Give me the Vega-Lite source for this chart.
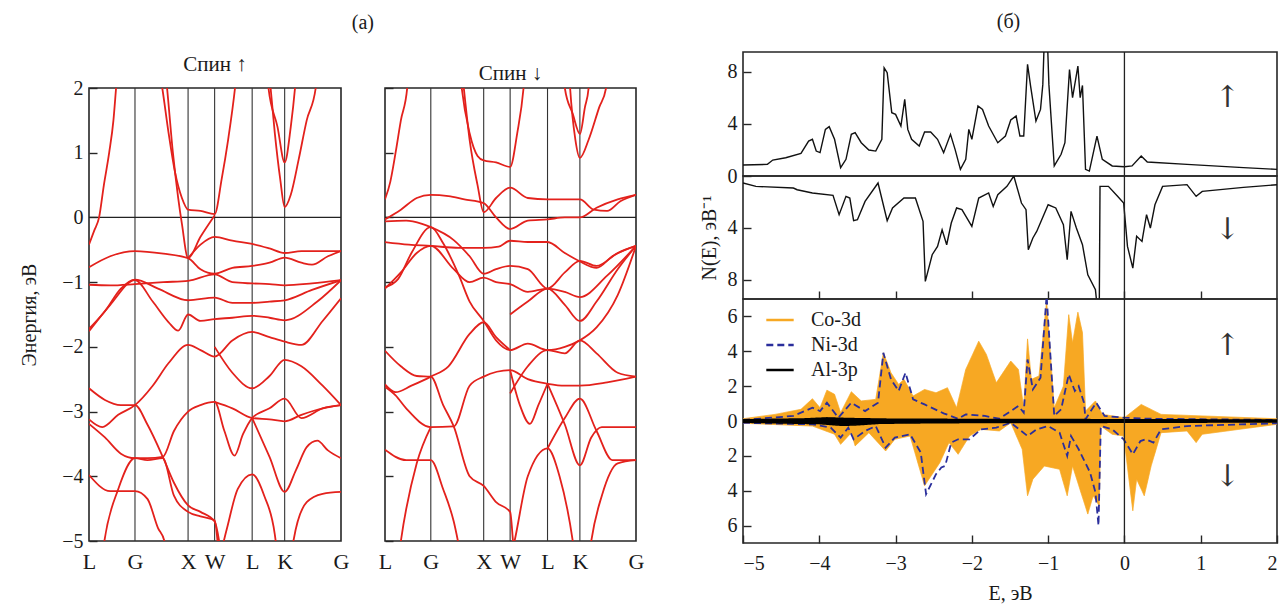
{
"$schema": "https://vega.github.io/schema/vega-lite/v6.json",
"background": "white",
"padding": {"left": 18, "top": 11, "right": 2, "bottom": 2},
"config": {
 "font": "Liberation Serif",
 "view": {"stroke": "#262626", "strokeWidth": 1.6},
 "axis": {"labelFont": "Liberation Serif", "titleFont": "Liberation Serif", "labelFontSize": 20, "titleFontSize": 20, "labelColor": "#1a1a1a", "titleColor": "#1a1a1a", "titleFontWeight": "normal", "grid": false, "domain": false, "tickColor": "#262626", "tickWidth": 1.4},
 "title": {"font": "Liberation Serif", "fontSize": 21, "fontWeight": "normal", "color": "#1a1a1a"},
 "legend": {"labelFont": "Liberation Serif", "labelFontSize": 20, "labelColor": "#1a1a1a"}
},
"datasets": {
 "sym": [{"k": 0.866}, {"k": 1.866}, {"k": 2.366}, {"k": 3.073}, {"k": 3.685}],
 "zero": [{"E": 0}],
 "bu": [
  {"b":"B1","k":0,"E":-0.42},{"b":"B1","k":0.1,"E":-0.2},{"b":"B1","k":0.19,"E":0},{"b":"B1","k":0.28,"E":0.5},{"b":"B1","k":0.38,"E":1.0},{"b":"B1","k":0.46,"E":1.5},{"b":"B1","k":0.51,"E":2.0},{"b":"B1","k":0.55,"E":2.4},
  {"b":"B2","k":1.30,"E":2.4},{"b":"B2","k":1.38,"E":2.0},{"b":"B2","k":1.50,"E":1.3},{"b":"B2","k":1.62,"E":0.7},{"b":"B2","k":1.75,"E":0.3},{"b":"B2","k":1.866,"E":0.12},{"b":"B2","k":2.1,"E":0.1},{"b":"B2","k":2.366,"E":0.05},{"b":"B2","k":2.5,"E":0.6},{"b":"B2","k":2.62,"E":1.2},{"b":"B2","k":2.75,"E":2.0},{"b":"B2","k":2.8,"E":2.4},
  {"b":"B3","k":1.42,"E":2.4},{"b":"B3","k":1.47,"E":2.0},{"b":"B3","k":1.58,"E":1.0},{"b":"B3","k":1.68,"E":0.3},{"b":"B3","k":1.75,"E":-0.1},{"b":"B3","k":1.866,"E":-0.63},{"b":"B3","k":2.1,"E":-0.3},{"b":"B3","k":2.366,"E":0.03},
  {"b":"B4","k":3.33,"E":2.4},{"b":"B4","k":3.38,"E":2.0},{"b":"B4","k":3.55,"E":1.4},{"b":"B4","k":3.685,"E":0.85},{"b":"B4","k":3.8,"E":1.4},{"b":"B4","k":3.88,"E":2.0},{"b":"B4","k":3.92,"E":2.4},
  {"b":"B5","k":3.38,"E":2.4},{"b":"B5","k":3.42,"E":2.0},{"b":"B5","k":3.5,"E":1.3},{"b":"B5","k":3.6,"E":0.6},{"b":"B5","k":3.685,"E":0.16},{"b":"B5","k":3.8,"E":0.35},{"b":"B5","k":3.95,"E":0.9},{"b":"B5","k":4.1,"E":1.5},{"b":"B5","k":4.27,"E":2.0},{"b":"B5","k":4.32,"E":2.4},
  {"b":"B7","k":0,"E":-0.77},{"b":"B7","k":0.4,"E":-0.6},{"b":"B7","k":0.866,"E":-0.52},{"b":"B7","k":1.4,"E":-0.56},{"b":"B7","k":1.866,"E":-0.63},{"b":"B7","k":2.1,"E":-0.8},{"b":"B7","k":2.366,"E":-0.87},{"b":"B7","k":2.7,"E":-0.78},{"b":"B7","k":3.073,"E":-0.75},{"b":"B7","k":3.4,"E":-0.7},{"b":"B7","k":3.685,"E":-0.62},{"b":"B7","k":4.0,"E":-0.7},{"b":"B7","k":4.2,"E":-0.73},{"b":"B7","k":4.5,"E":-0.6},{"b":"B7","k":4.746,"E":-0.52},
  {"b":"B8","k":1.866,"E":-0.63},{"b":"B8","k":2.1,"E":-0.42},{"b":"B8","k":2.366,"E":-0.3},{"b":"B8","k":2.7,"E":-0.36},{"b":"B8","k":3.073,"E":-0.41},{"b":"B8","k":3.4,"E":-0.48},{"b":"B8","k":3.685,"E":-0.55},{"b":"B8","k":4.0,"E":-0.52},{"b":"B8","k":4.4,"E":-0.52},{"b":"B8","k":4.746,"E":-0.52},
  {"b":"B9","k":0,"E":-1.04},{"b":"B9","k":0.4,"E":-1.05},{"b":"B9","k":0.866,"E":-1.03},{"b":"B9","k":1.4,"E":-1.0},{"b":"B9","k":1.866,"E":-0.98},{"b":"B9","k":2.366,"E":-0.88},{"b":"B9","k":2.7,"E":-1.0},{"b":"B9","k":3.073,"E":-1.02},{"b":"B9","k":3.4,"E":-1.03},{"b":"B9","k":3.685,"E":-1.05},{"b":"B9","k":4.2,"E":-1.02},{"b":"B9","k":4.746,"E":-0.97},
  {"b":"B10","k":0,"E":-1.72},{"b":"B10","k":0.3,"E":-1.45},{"b":"B10","k":0.6,"E":-1.1},{"b":"B10","k":0.866,"E":-0.96},{"b":"B10","k":1.3,"E":-1.1},{"b":"B10","k":1.866,"E":-1.28},{"b":"B10","k":2.366,"E":-1.24},{"b":"B10","k":2.7,"E":-1.32},{"b":"B10","k":3.073,"E":-1.32},{"b":"B10","k":3.4,"E":-1.3},{"b":"B10","k":3.685,"E":-1.28},{"b":"B10","k":4.2,"E":-1.12},{"b":"B10","k":4.746,"E":-0.97},
  {"b":"B11","k":0,"E":-1.76},{"b":"B11","k":0.4,"E":-1.35},{"b":"B11","k":0.866,"E":-0.97},{"b":"B11","k":1.2,"E":-1.3},{"b":"B11","k":1.5,"E":-1.62},{"b":"B11","k":1.68,"E":-1.75},{"b":"B11","k":1.866,"E":-1.5},{"b":"B11","k":2.1,"E":-1.6},{"b":"B11","k":2.366,"E":-1.57},{"b":"B11","k":2.7,"E":-1.55},{"b":"B11","k":3.073,"E":-1.52},{"b":"B11","k":3.4,"E":-1.55},{"b":"B11","k":3.685,"E":-1.59},{"b":"B11","k":4.3,"E":-1.3},{"b":"B11","k":4.746,"E":-0.97},
  {"b":"C1","k":0,"E":-2.64},{"b":"C1","k":0.3,"E":-2.82},{"b":"C1","k":0.6,"E":-2.9},{"b":"C1","k":0.866,"E":-2.9},{"b":"C1","k":1.1,"E":-3.2},{"b":"C1","k":1.39,"E":-3.7},{"b":"C1","k":1.6,"E":-4.1},{"b":"C1","k":1.866,"E":-4.45},{"b":"C1","k":2.1,"E":-4.55},{"b":"C1","k":2.366,"E":-4.7},{"b":"C1","k":2.45,"E":-5.0},{"b":"C1","k":2.5,"E":-5.3},
  {"b":"C2","k":0,"E":-3.12},{"b":"C2","k":0.25,"E":-3.24},{"b":"C2","k":0.55,"E":-3.05},{"b":"C2","k":0.866,"E":-2.9},{"b":"C2","k":1.2,"E":-2.6},{"b":"C2","k":1.5,"E":-2.25},{"b":"C2","k":1.866,"E":-1.97},{"b":"C2","k":2.1,"E":-2.05},{"b":"C2","k":2.366,"E":-2.15},{"b":"C2","k":2.7,"E":-1.9},{"b":"C2","k":3.073,"E":-1.77},{"b":"C2","k":3.4,"E":-1.85},{"b":"C2","k":3.685,"E":-1.92},{"b":"C2","k":4.0,"E":-1.97},{"b":"C2","k":4.4,"E":-1.6},{"b":"C2","k":4.746,"E":-1.25},
  {"b":"C3","k":0,"E":-3.19},{"b":"C3","k":0.3,"E":-3.4},{"b":"C3","k":0.6,"E":-3.65},{"b":"C3","k":0.866,"E":-3.72},{"b":"C3","k":1.1,"E":-3.72},{"b":"C3","k":1.39,"E":-3.7},{"b":"C3","k":1.6,"E":-3.3},{"b":"C3","k":1.866,"E":-3.0},{"b":"C3","k":2.1,"E":-2.9},{"b":"C3","k":2.366,"E":-2.85},{"b":"C3","k":2.55,"E":-3.3},{"b":"C3","k":2.74,"E":-3.68},{"b":"C3","k":2.9,"E":-3.35},{"b":"C3","k":3.073,"E":-3.1},{"b":"C3","k":3.4,"E":-2.95},{"b":"C3","k":3.685,"E":-2.8},{"b":"C3","k":4.0,"E":-3.1},{"b":"C3","k":4.4,"E":-2.95},{"b":"C3","k":4.746,"E":-2.9},
  {"b":"C4","k":0,"E":-3.98},{"b":"C4","k":0.4,"E":-4.23},{"b":"C4","k":0.866,"E":-4.23},{"b":"C4","k":1.1,"E":-4.35},{"b":"C4","k":1.3,"E":-4.8},{"b":"C4","k":1.42,"E":-5.0},{"b":"C4","k":1.48,"E":-5.3},
  {"b":"C5","k":0.24,"E":-5.3},{"b":"C5","k":0.29,"E":-5.0},{"b":"C5","k":0.55,"E":-4.2},{"b":"C5","k":0.866,"E":-3.72},{"b":"C5","k":1.1,"E":-3.75},{"b":"C5","k":1.39,"E":-3.72},{"b":"C5","k":1.6,"E":-4.3},{"b":"C5","k":1.866,"E":-4.55},{"b":"C5","k":2.1,"E":-4.62},{"b":"C5","k":2.366,"E":-4.68},{"b":"C5","k":2.42,"E":-5.0},{"b":"C5","k":2.45,"E":-5.3},
  {"b":"D2","k":2.366,"E":-2.85},{"b":"D2","k":2.7,"E":-2.95},{"b":"D2","k":3.073,"E":-3.1},{"b":"D2","k":3.4,"E":-3.12},{"b":"D2","k":3.685,"E":-3.15},{"b":"D2","k":4.0,"E":-3.05},{"b":"D2","k":4.4,"E":-2.95},{"b":"D2","k":4.746,"E":-2.9},
  {"b":"D4","k":2.366,"E":-2.0},{"b":"D4","k":2.7,"E":-2.4},{"b":"D4","k":3.073,"E":-2.64},{"b":"D4","k":3.4,"E":-2.45},{"b":"D4","k":3.685,"E":-2.2},{"b":"D4","k":4.0,"E":-2.3},{"b":"D4","k":4.4,"E":-2.6},{"b":"D4","k":4.746,"E":-2.9},
  {"b":"D5","k":2.45,"E":-5.3},{"b":"D5","k":2.6,"E":-4.8},{"b":"D5","k":2.8,"E":-4.2},{"b":"D5","k":3.073,"E":-3.97},{"b":"D5","k":3.3,"E":-4.3},{"b":"D5","k":3.5,"E":-4.9},{"b":"D5","k":3.56,"E":-5.3},
  {"b":"D6","k":3.073,"E":-3.1},{"b":"D6","k":3.4,"E":-3.7},{"b":"D6","k":3.685,"E":-4.24},{"b":"D6","k":3.9,"E":-3.9},{"b":"D6","k":4.1,"E":-3.55},{"b":"D6","k":4.3,"E":-3.45},{"b":"D6","k":4.5,"E":-3.6},{"b":"D6","k":4.746,"E":-3.72},
  {"b":"D7","k":3.8,"E":-5.3},{"b":"D7","k":3.85,"E":-5.0},{"b":"D7","k":4.1,"E":-4.4},{"b":"D7","k":4.4,"E":-4.27},{"b":"D7","k":4.746,"E":-4.24}
 ],
 "bd": [
  {"b":"F1","k":0,"E":0.28},{"b":"F1","k":0.1,"E":0.55},{"b":"F1","k":0.2,"E":1.0},{"b":"F1","k":0.3,"E":1.5},{"b":"F1","k":0.42,"E":2.0},{"b":"F1","k":0.46,"E":2.4},
  {"b":"F2","k":1.40,"E":2.4},{"b":"F2","k":1.45,"E":2.0},{"b":"F2","k":1.6,"E":1.3},{"b":"F2","k":1.75,"E":0.95},{"b":"F2","k":1.866,"E":0.88},{"b":"F2","k":2.1,"E":0.85},{"b":"F2","k":2.366,"E":0.78},{"b":"F2","k":2.5,"E":1.3},{"b":"F2","k":2.62,"E":2.0},{"b":"F2","k":2.66,"E":2.4},
  {"b":"F3","k":1.44,"E":2.4},{"b":"F3","k":1.49,"E":2.0},{"b":"F3","k":1.6,"E":1.2},{"b":"F3","k":1.75,"E":0.5},{"b":"F3","k":1.866,"E":0.08},{"b":"F3","k":2.1,"E":0.3},{"b":"F3","k":2.366,"E":0.46},{"b":"F3","k":2.7,"E":0.3},{"b":"F3","k":3.073,"E":0.28},{"b":"F3","k":3.4,"E":0.28},{"b":"F3","k":3.685,"E":0.28},{"b":"F3","k":3.95,"E":0.12},{"b":"F3","k":4.2,"E":0.1},{"b":"F3","k":4.45,"E":0.25},{"b":"F3","k":4.746,"E":0.35},
  {"b":"F4a","k":3.35,"E":2.4},{"b":"F4a","k":3.4,"E":2.0},{"b":"F4a","k":3.55,"E":1.6},{"b":"F4a","k":3.685,"E":1.29},{"b":"F4a","k":3.78,"E":1.7},{"b":"F4a","k":3.85,"E":2.0},{"b":"F4a","k":3.88,"E":2.4},
  {"b":"F4b","k":3.47,"E":2.4},{"b":"F4b","k":3.5,"E":2.0},{"b":"F4b","k":3.6,"E":1.2},{"b":"F4b","k":3.685,"E":0.92},{"b":"F4b","k":3.85,"E":1.2},{"b":"F4b","k":4.05,"E":1.7},{"b":"F4b","k":4.18,"E":2.0},{"b":"F4b","k":4.22,"E":2.4},
  {"b":"F5","k":0,"E":-0.03},{"b":"F5","k":0.3,"E":0.12},{"b":"F5","k":0.6,"E":0.3},{"b":"F5","k":0.866,"E":0.35},{"b":"F5","k":1.2,"E":0.33},{"b":"F5","k":1.5,"E":0.28},{"b":"F5","k":1.866,"E":0.22},{"b":"F5","k":2.1,"E":0.0},{"b":"F5","k":2.366,"E":-0.18},{"b":"F5","k":2.7,"E":-0.05},{"b":"F5","k":3.073,"E":-0.03},{"b":"F5","k":3.4,"E":0.0},{"b":"F5","k":3.685,"E":0.0},{"b":"F5","k":4.0,"E":0.15},{"b":"F5","k":4.4,"E":0.28},{"b":"F5","k":4.746,"E":0.35},
  {"b":"F6","k":0,"E":-0.06},{"b":"F6","k":0.4,"E":-0.05},{"b":"F6","k":0.7,"E":-0.1},{"b":"F6","k":0.866,"E":-0.15},{"b":"F6","k":1.3,"E":-0.35},{"b":"F6","k":1.6,"E":-0.6},{"b":"F6","k":1.866,"E":-0.87},{"b":"F6","k":2.1,"E":-0.8},{"b":"F6","k":2.366,"E":-0.75},{"b":"F6","k":2.7,"E":-0.8},{"b":"F6","k":3.073,"E":-1.1},{"b":"F6","k":3.4,"E":-0.85},{"b":"F6","k":3.685,"E":-0.67},{"b":"F6","k":4.0,"E":-0.75},{"b":"F6","k":4.4,"E":-0.55},{"b":"F6","k":4.746,"E":-0.44},
  {"b":"G1","k":0,"E":-0.38},{"b":"G1","k":0.45,"E":-0.42},{"b":"G1","k":0.866,"E":-0.44},{"b":"G1","k":1.4,"E":-0.47},{"b":"G1","k":1.866,"E":-0.47},{"b":"G1","k":2.15,"E":-0.45},{"b":"G1","k":2.366,"E":-0.36},{"b":"G1","k":2.7,"E":-0.38},{"b":"G1","k":3.073,"E":-0.38},{"b":"G1","k":3.4,"E":-0.55},{"b":"G1","k":3.685,"E":-0.68},{"b":"G1","k":4.0,"E":-0.78},{"b":"G1","k":4.3,"E":-0.6},{"b":"G1","k":4.746,"E":-0.44},
  {"b":"G2","k":0,"E":-1.08},{"b":"G2","k":0.25,"E":-0.95},{"b":"G2","k":0.5,"E":-0.55},{"b":"G2","k":0.866,"E":-0.15},{"b":"G2","k":1.1,"E":-0.4},{"b":"G2","k":1.4,"E":-0.9},{"b":"G2","k":1.6,"E":-1.3},{"b":"G2","k":1.866,"E":-1.6},{"b":"G2","k":2.1,"E":-1.9},{"b":"G2","k":2.366,"E":-2.05},{"b":"G2","k":2.7,"E":-1.95},{"b":"G2","k":3.073,"E":-2.05},{"b":"G2","k":3.4,"E":-2.0},{"b":"G2","k":3.685,"E":-1.9},{"b":"G2","k":4.0,"E":-1.7},{"b":"G2","k":4.4,"E":-1.2},{"b":"G2","k":4.746,"E":-0.44},
  {"b":"G3","k":0,"E":-1.1},{"b":"G3","k":0.3,"E":-0.85},{"b":"G3","k":0.6,"E":-0.55},{"b":"G3","k":0.866,"E":-0.44},{"b":"G3","k":1.3,"E":-0.8},{"b":"G3","k":1.6,"E":-1.0},{"b":"G3","k":1.866,"E":-0.93},{"b":"G3","k":2.1,"E":-1.0},{"b":"G3","k":2.366,"E":-1.03},{"b":"G3","k":2.7,"E":-1.15},{"b":"G3","k":3.073,"E":-1.1},{"b":"G3","k":3.4,"E":-1.15},{"b":"G3","k":3.685,"E":-1.23},{"b":"G3","k":4.2,"E":-0.9},{"b":"G3","k":4.746,"E":-0.44},
  {"b":"G4","k":2.366,"E":-1.5},{"b":"G4","k":2.7,"E":-1.3},{"b":"G4","k":3.073,"E":-1.1},{"b":"G4","k":3.4,"E":-1.35},{"b":"G4","k":3.685,"E":-1.6},{"b":"G4","k":4.0,"E":-1.3},{"b":"G4","k":4.4,"E":-0.8},{"b":"G4","k":4.746,"E":-0.44},
  {"b":"H1","k":0,"E":-2.06},{"b":"H1","k":0.3,"E":-2.3},{"b":"H1","k":0.6,"E":-2.45},{"b":"H1","k":0.866,"E":-2.46},{"b":"H1","k":1.1,"E":-2.9},{"b":"H1","k":1.3,"E":-3.23},{"b":"H1","k":1.6,"E":-4.0},{"b":"H1","k":1.866,"E":-4.15},{"b":"H1","k":2.1,"E":-4.4},{"b":"H1","k":2.366,"E":-4.55},{"b":"H1","k":2.42,"E":-5.0},{"b":"H1","k":2.45,"E":-5.3},
  {"b":"H2","k":0,"E":-2.62},{"b":"H2","k":0.2,"E":-2.75},{"b":"H2","k":0.4,"E":-2.95},{"b":"H2","k":0.866,"E":-3.24},{"b":"H2","k":1.3,"E":-3.23},{"b":"H2","k":1.6,"E":-2.6},{"b":"H2","k":1.866,"E":-2.46},{"b":"H2","k":2.366,"E":-2.36},{"b":"H2","k":2.7,"E":-2.5},{"b":"H2","k":3.073,"E":-2.57},{"b":"H2","k":3.4,"E":-2.6},{"b":"H2","k":3.685,"E":-2.6},{"b":"H2","k":4.2,"E":-2.55},{"b":"H2","k":4.746,"E":-2.46},
  {"b":"H3","k":0,"E":-2.58},{"b":"H3","k":0.2,"E":-2.7},{"b":"H3","k":0.5,"E":-2.6},{"b":"H3","k":0.866,"E":-2.46},{"b":"H3","k":1.2,"E":-2.3},{"b":"H3","k":1.6,"E":-1.8},{"b":"H3","k":1.866,"E":-1.62},{"b":"H3","k":2.1,"E":-1.85},{"b":"H3","k":2.366,"E":-2.05},
  {"b":"H4","k":0,"E":-3.59},{"b":"H4","k":0.4,"E":-3.75},{"b":"H4","k":0.866,"E":-3.75},{"b":"H4","k":1.1,"E":-4.2},{"b":"H4","k":1.3,"E":-4.7},{"b":"H4","k":1.45,"E":-5.3},
  {"b":"H5","k":0.25,"E":-5.3},{"b":"H5","k":0.3,"E":-5.0},{"b":"H5","k":0.6,"E":-3.8},{"b":"H5","k":0.866,"E":-3.24},
  {"b":"H6","k":2.366,"E":-2.36},{"b":"H6","k":2.55,"E":-2.9},{"b":"H6","k":2.74,"E":-3.19},{"b":"H6","k":2.9,"E":-2.9},{"b":"H6","k":3.073,"E":-2.57},
  {"b":"H7","k":2.366,"E":-2.72},{"b":"H7","k":2.7,"E":-2.3},{"b":"H7","k":3.073,"E":-2.05},{"b":"H7","k":3.4,"E":-2.1},{"b":"H7","k":3.685,"E":-1.9},{"b":"H7","k":4.0,"E":-2.1},{"b":"H7","k":4.4,"E":-2.4},{"b":"H7","k":4.746,"E":-2.46},
  {"b":"H8","k":2.366,"E":-5.3},{"b":"H8","k":2.45,"E":-5.0},{"b":"H8","k":2.7,"E":-4.0},{"b":"H8","k":3.073,"E":-3.57},{"b":"H8","k":3.3,"E":-4.0},{"b":"H8","k":3.55,"E":-5.0},{"b":"H8","k":3.6,"E":-5.3},
  {"b":"H9","k":3.073,"E":-2.57},{"b":"H9","k":3.4,"E":-3.2},{"b":"H9","k":3.685,"E":-3.83},{"b":"H9","k":3.9,"E":-3.4},{"b":"H9","k":4.1,"E":-3.24},{"b":"H9","k":4.4,"E":-3.24},{"b":"H9","k":4.746,"E":-3.24},
  {"b":"H10","k":3.073,"E":-3.57},{"b":"H10","k":3.4,"E":-3.1},{"b":"H10","k":3.685,"E":-2.8},{"b":"H10","k":4.0,"E":-3.3},{"b":"H10","k":4.3,"E":-3.75},{"b":"H10","k":4.746,"E":-3.75},
  {"b":"H11","k":3.85,"E":-5.3},{"b":"H11","k":3.9,"E":-5.0},{"b":"H11","k":4.1,"E":-4.3},{"b":"H11","k":4.4,"E":-3.8},{"b":"H11","k":4.746,"E":-3.75}
 ],
 "dU": [
  {"E":-5,"N":0.84},{"E":-4.68,"N":0.89},{"E":-4.61,"N":1.22},{"E":-4.44,"N":1.4},{"E":-4.24,"N":1.73},{"E":-4.14,"N":2.68},{"E":-4.09,"N":2.81},{"E":-4.04,"N":1.91},{"E":-3.99,"N":1.79},{"E":-3.92,"N":3.57},{"E":-3.87,"N":3.78},{"E":-3.8,"N":2.81},{"E":-3.72,"N":0.64},{"E":-3.65,"N":1.28},{"E":-3.58,"N":3.19},{"E":-3.53,"N":3.32},{"E":-3.45,"N":2.55},{"E":-3.35,"N":1.99},{"E":-3.26,"N":1.91},{"E":-3.18,"N":2.81},{"E":-3.15,"N":8.29},{"E":-3.11,"N":7.91},{"E":-3.05,"N":4.85},{"E":-3.0,"N":4.72},{"E":-2.93,"N":3.83},{"E":-2.88,"N":5.87},{"E":-2.84,"N":3.57},{"E":-2.79,"N":2.81},{"E":-2.69,"N":2.3},{"E":-2.62,"N":3.37},{"E":-2.54,"N":3.37},{"E":-2.45,"N":2.81},{"E":-2.37,"N":1.79},{"E":-2.28,"N":3.19},{"E":-2.22,"N":2.04},{"E":-2.15,"N":0.51},{"E":-2.08,"N":1.28},{"E":-2.04,"N":3.57},{"E":-2.0,"N":2.81},{"E":-1.92,"N":5.36},{"E":-1.86,"N":5.1},{"E":-1.78,"N":3.83},{"E":-1.66,"N":2.55},{"E":-1.56,"N":3.06},{"E":-1.49,"N":4.29},{"E":-1.42,"N":4.59},{"E":-1.37,"N":3.06},{"E":-1.32,"N":3.06},{"E":-1.27,"N":8.55},{"E":-1.23,"N":6.89},{"E":-1.16,"N":4.21},{"E":-1.1,"N":5.1},{"E":-1.07,"N":7.0},{"E":-1.05,"N":10.5},{"E":-1.01,"N":10.5},{"E":-0.99,"N":7.0},{"E":-0.92,"N":0.77},{"E":-0.83,"N":1.66},{"E":-0.78,"N":2.55},{"E":-0.72,"N":8.16},{"E":-0.68,"N":6.0},{"E":-0.61,"N":8.42},{"E":-0.58,"N":6.0},{"E":-0.55,"N":6.94},{"E":-0.51,"N":0.51},{"E":-0.46,"N":0.38},{"E":-0.36,"N":3.06},{"E":-0.29,"N":1.28},{"E":-0.16,"N":0.77},{"E":0,"N":0.71},{"E":0.1,"N":0.77},{"E":0.22,"N":1.53},{"E":0.3,"N":1.07},{"E":0.82,"N":0.89},{"E":1.56,"N":0.64},{"E":2.0,"N":0.51}
 ],
 "dD": [
  {"E":-5,"N":0.54},{"E":-4.83,"N":0.8},{"E":-4.34,"N":0.93},{"E":-4.29,"N":1.06},{"E":-4.09,"N":1.31},{"E":-3.82,"N":1.49},{"E":-3.74,"N":2.99},{"E":-3.65,"N":1.57},{"E":-3.6,"N":1.7},{"E":-3.55,"N":3.45},{"E":-3.5,"N":3.38},{"E":-3.4,"N":1.96},{"E":-3.23,"N":0.54},{"E":-3.11,"N":3.45},{"E":-3.04,"N":2.47},{"E":-2.89,"N":1.7},{"E":-2.74,"N":1.7},{"E":-2.64,"N":3.5},{"E":-2.61,"N":8.14},{"E":-2.52,"N":6.08},{"E":-2.45,"N":5.44},{"E":-2.39,"N":4.15},{"E":-2.33,"N":5.31},{"E":-2.27,"N":3.63},{"E":-2.2,"N":2.47},{"E":-2.13,"N":2.6},{"E":-2.0,"N":3.89},{"E":-1.91,"N":1.7},{"E":-1.78,"N":1.31},{"E":-1.72,"N":2.35},{"E":-1.66,"N":1.44},{"E":-1.54,"N":0.8},{"E":-1.45,"N":0.0},{"E":-1.35,"N":2.09},{"E":-1.29,"N":2.6},{"E":-1.26,"N":5.7},{"E":-1.2,"N":4.79},{"E":-1.15,"N":4.28},{"E":-1.0,"N":2.22},{"E":-0.9,"N":2.47},{"E":-0.8,"N":3.76},{"E":-0.75,"N":6.47},{"E":-0.7,"N":2.73},{"E":-0.63,"N":4.02},{"E":-0.55,"N":5.31},{"E":-0.48,"N":7.63},{"E":-0.38,"N":8.79},{"E":-0.35,"N":10.5},{"E":-0.33,"N":10.5},{"E":-0.32,"N":0.8},{"E":-0.21,"N":0.8},{"E":-0.09,"N":1.57},{"E":-0.01,"N":2.09},{"E":0.04,"N":5.44},{"E":0.11,"N":7.11},{"E":0.16,"N":4.66},{"E":0.23,"N":5.05},{"E":0.29,"N":2.99},{"E":0.34,"N":4.02},{"E":0.4,"N":2.22},{"E":0.5,"N":0.8},{"E":0.82,"N":0.67},{"E":0.94,"N":1.57},{"E":1.02,"N":1.19},{"E":1.56,"N":0.88},{"E":2.0,"N":0.67}
 ],
 "co": [
  {"s":"Co-3d","d":"u","E":-5,"N":0.13},{"s":"Co-3d","d":"u","E":-4.58,"N":0.38},{"s":"Co-3d","d":"u","E":-4.24,"N":0.67},{"s":"Co-3d","d":"u","E":-4.09,"N":1.28},{"s":"Co-3d","d":"u","E":-3.99,"N":0.76},{"s":"Co-3d","d":"u","E":-3.9,"N":1.77},{"s":"Co-3d","d":"u","E":-3.8,"N":1.53},{"s":"Co-3d","d":"u","E":-3.72,"N":0.48},{"s":"Co-3d","d":"u","E":-3.58,"N":1.68},{"s":"Co-3d","d":"u","E":-3.45,"N":1.15},{"s":"Co-3d","d":"u","E":-3.26,"N":1.24},{"s":"Co-3d","d":"u","E":-3.16,"N":3.91},{"s":"Co-3d","d":"u","E":-3.06,"N":2.77},{"s":"Co-3d","d":"u","E":-2.96,"N":2.1},{"s":"Co-3d","d":"u","E":-2.89,"N":2.39},{"s":"Co-3d","d":"u","E":-2.77,"N":1.43},{"s":"Co-3d","d":"u","E":-2.62,"N":1.81},{"s":"Co-3d","d":"u","E":-2.47,"N":1.62},{"s":"Co-3d","d":"u","E":-2.32,"N":1.91},{"s":"Co-3d","d":"u","E":-2.2,"N":0.76},{"s":"Co-3d","d":"u","E":-2.08,"N":2.96},{"s":"Co-3d","d":"u","E":-1.91,"N":4.58},{"s":"Co-3d","d":"u","E":-1.81,"N":3.82},{"s":"Co-3d","d":"u","E":-1.68,"N":2.19},{"s":"Co-3d","d":"u","E":-1.49,"N":3.44},{"s":"Co-3d","d":"u","E":-1.39,"N":2.96},{"s":"Co-3d","d":"u","E":-1.32,"N":0.76},{"s":"Co-3d","d":"u","E":-1.27,"N":4.71},{"s":"Co-3d","d":"u","E":-1.22,"N":2.39},{"s":"Co-3d","d":"u","E":-1.12,"N":2.58},{"s":"Co-3d","d":"u","E":-1.02,"N":6.9},{"s":"Co-3d","d":"u","E":-0.92,"N":0.76},{"s":"Co-3d","d":"u","E":-0.8,"N":2.0},{"s":"Co-3d","d":"u","E":-0.73,"N":6.1},{"s":"Co-3d","d":"u","E":-0.68,"N":4.48},{"s":"Co-3d","d":"u","E":-0.61,"N":6.24},{"s":"Co-3d","d":"u","E":-0.55,"N":5.06},{"s":"Co-3d","d":"u","E":-0.51,"N":0.57},{"s":"Co-3d","d":"u","E":-0.38,"N":1.15},{"s":"Co-3d","d":"u","E":-0.29,"N":0.38},{"s":"Co-3d","d":"u","E":0,"N":0.19},{"s":"Co-3d","d":"u","E":0.22,"N":0.95},{"s":"Co-3d","d":"u","E":0.48,"N":0.38},{"s":"Co-3d","d":"u","E":2.0,"N":0.13},
  {"s":"Co-3d","d":"d","E":-5,"N":-0.13},{"s":"Co-3d","d":"d","E":-4.09,"N":-0.29},{"s":"Co-3d","d":"d","E":-3.8,"N":-0.76},{"s":"Co-3d","d":"d","E":-3.72,"N":-1.34},{"s":"Co-3d","d":"d","E":-3.58,"N":-0.67},{"s":"Co-3d","d":"d","E":-3.53,"N":-1.43},{"s":"Co-3d","d":"d","E":-3.35,"N":-0.67},{"s":"Co-3d","d":"d","E":-3.13,"N":-1.72},{"s":"Co-3d","d":"d","E":-3.01,"N":-1.05},{"s":"Co-3d","d":"d","E":-2.81,"N":-0.86},{"s":"Co-3d","d":"d","E":-2.62,"N":-3.72},{"s":"Co-3d","d":"d","E":-2.42,"N":-2.39},{"s":"Co-3d","d":"d","E":-2.3,"N":-1.24},{"s":"Co-3d","d":"d","E":-2.18,"N":-1.91},{"s":"Co-3d","d":"d","E":-2.03,"N":-0.86},{"s":"Co-3d","d":"d","E":-1.88,"N":-0.48},{"s":"Co-3d","d":"d","E":-1.64,"N":-0.57},{"s":"Co-3d","d":"d","E":-1.49,"N":-0.1},{"s":"Co-3d","d":"d","E":-1.34,"N":-1.62},{"s":"Co-3d","d":"d","E":-1.27,"N":-4.29},{"s":"Co-3d","d":"d","E":-1.2,"N":-3.34},{"s":"Co-3d","d":"d","E":-1.05,"N":-2.58},{"s":"Co-3d","d":"d","E":-0.85,"N":-2.77},{"s":"Co-3d","d":"d","E":-0.75,"N":-4.29},{"s":"Co-3d","d":"d","E":-0.68,"N":-2.58},{"s":"Co-3d","d":"d","E":-0.48,"N":-5.34},{"s":"Co-3d","d":"d","E":-0.41,"N":-4.29},{"s":"Co-3d","d":"d","E":-0.33,"N":-4.87},{"s":"Co-3d","d":"d","E":-0.31,"N":-0.29},{"s":"Co-3d","d":"d","E":-0.16,"N":-0.76},{"s":"Co-3d","d":"d","E":-0.01,"N":-0.86},{"s":"Co-3d","d":"d","E":0.11,"N":-5.15},{"s":"Co-3d","d":"d","E":0.16,"N":-3.34},{"s":"Co-3d","d":"d","E":0.26,"N":-4.29},{"s":"Co-3d","d":"d","E":0.35,"N":-2.58},{"s":"Co-3d","d":"d","E":0.48,"N":-0.67},{"s":"Co-3d","d":"d","E":0.82,"N":-0.57},{"s":"Co-3d","d":"d","E":0.94,"N":-1.24},{"s":"Co-3d","d":"d","E":1.02,"N":-0.76},{"s":"Co-3d","d":"d","E":2.0,"N":-0.19}
 ],
 "ni": [
  {"s":"Ni-3d","d":"u","E":-5,"N":0.06},{"s":"Ni-3d","d":"u","E":-4.34,"N":0.29},{"s":"Ni-3d","d":"u","E":-4.09,"N":0.76},{"s":"Ni-3d","d":"u","E":-3.99,"N":0.57},{"s":"Ni-3d","d":"u","E":-3.9,"N":1.05},{"s":"Ni-3d","d":"u","E":-3.75,"N":0.19},{"s":"Ni-3d","d":"u","E":-3.58,"N":1.05},{"s":"Ni-3d","d":"u","E":-3.4,"N":0.57},{"s":"Ni-3d","d":"u","E":-3.23,"N":1.05},{"s":"Ni-3d","d":"u","E":-3.16,"N":3.91},{"s":"Ni-3d","d":"u","E":-3.06,"N":2.39},{"s":"Ni-3d","d":"u","E":-2.96,"N":1.72},{"s":"Ni-3d","d":"u","E":-2.87,"N":2.77},{"s":"Ni-3d","d":"u","E":-2.77,"N":1.24},{"s":"Ni-3d","d":"u","E":-2.62,"N":0.95},{"s":"Ni-3d","d":"u","E":-2.37,"N":0.44},{"s":"Ni-3d","d":"u","E":-2.18,"N":0.13},{"s":"Ni-3d","d":"u","E":-2.08,"N":0.38},{"s":"Ni-3d","d":"u","E":-1.83,"N":0.29},{"s":"Ni-3d","d":"u","E":-1.64,"N":0.13},{"s":"Ni-3d","d":"u","E":-1.39,"N":0.86},{"s":"Ni-3d","d":"u","E":-1.32,"N":0.48},{"s":"Ni-3d","d":"u","E":-1.27,"N":3.53},{"s":"Ni-3d","d":"u","E":-1.2,"N":1.81},{"s":"Ni-3d","d":"u","E":-1.1,"N":2.48},{"s":"Ni-3d","d":"u","E":-1.02,"N":7.2},{"s":"Ni-3d","d":"u","E":-0.92,"N":0.29},{"s":"Ni-3d","d":"u","E":-0.83,"N":0.67},{"s":"Ni-3d","d":"u","E":-0.73,"N":2.67},{"s":"Ni-3d","d":"u","E":-0.65,"N":1.72},{"s":"Ni-3d","d":"u","E":-0.6,"N":2.0},{"s":"Ni-3d","d":"u","E":-0.53,"N":1.05},{"s":"Ni-3d","d":"u","E":-0.51,"N":0.1},{"s":"Ni-3d","d":"u","E":-0.37,"N":1.05},{"s":"Ni-3d","d":"u","E":-0.26,"N":0.29},{"s":"Ni-3d","d":"u","E":0,"N":0.19},{"s":"Ni-3d","d":"u","E":0.31,"N":0.13},{"s":"Ni-3d","d":"u","E":2.0,"N":0.06},
  {"s":"Ni-3d","d":"d","E":-5,"N":-0.1},{"s":"Ni-3d","d":"d","E":-4.09,"N":-0.19},{"s":"Ni-3d","d":"d","E":-3.85,"N":-0.38},{"s":"Ni-3d","d":"d","E":-3.72,"N":-0.95},{"s":"Ni-3d","d":"d","E":-3.62,"N":-0.38},{"s":"Ni-3d","d":"d","E":-3.55,"N":-1.05},{"s":"Ni-3d","d":"d","E":-3.4,"N":-0.57},{"s":"Ni-3d","d":"d","E":-3.26,"N":-0.29},{"s":"Ni-3d","d":"d","E":-3.13,"N":-1.53},{"s":"Ni-3d","d":"d","E":-3.01,"N":-0.95},{"s":"Ni-3d","d":"d","E":-2.81,"N":-0.76},{"s":"Ni-3d","d":"d","E":-2.67,"N":-1.81},{"s":"Ni-3d","d":"d","E":-2.6,"N":-4.2},{"s":"Ni-3d","d":"d","E":-2.47,"N":-3.05},{"s":"Ni-3d","d":"d","E":-2.4,"N":-2.67},{"s":"Ni-3d","d":"d","E":-2.35,"N":-2.58},{"s":"Ni-3d","d":"d","E":-2.27,"N":-1.24},{"s":"Ni-3d","d":"d","E":-2.18,"N":-1.05},{"s":"Ni-3d","d":"d","E":-2.03,"N":-1.05},{"s":"Ni-3d","d":"d","E":-1.88,"N":-0.48},{"s":"Ni-3d","d":"d","E":-1.68,"N":-0.38},{"s":"Ni-3d","d":"d","E":-1.49,"N":-0.1},{"s":"Ni-3d","d":"d","E":-1.27,"N":-0.86},{"s":"Ni-3d","d":"d","E":-1.15,"N":-0.48},{"s":"Ni-3d","d":"d","E":-1.0,"N":-0.29},{"s":"Ni-3d","d":"d","E":-0.85,"N":-0.67},{"s":"Ni-3d","d":"d","E":-0.75,"N":-2.0},{"s":"Ni-3d","d":"d","E":-0.7,"N":-0.86},{"s":"Ni-3d","d":"d","E":-0.6,"N":-1.62},{"s":"Ni-3d","d":"d","E":-0.45,"N":-2.96},{"s":"Ni-3d","d":"d","E":-0.38,"N":-4.1},{"s":"Ni-3d","d":"d","E":-0.34,"N":-6.0},{"s":"Ni-3d","d":"d","E":-0.31,"N":-0.29},{"s":"Ni-3d","d":"d","E":-0.16,"N":-0.48},{"s":"Ni-3d","d":"d","E":-0.01,"N":-1.05},{"s":"Ni-3d","d":"d","E":0.11,"N":-1.91},{"s":"Ni-3d","d":"d","E":0.21,"N":-1.15},{"s":"Ni-3d","d":"d","E":0.28,"N":-1.05},{"s":"Ni-3d","d":"d","E":0.38,"N":-1.24},{"s":"Ni-3d","d":"d","E":0.48,"N":-0.48},{"s":"Ni-3d","d":"d","E":0.82,"N":-0.29},{"s":"Ni-3d","d":"d","E":2.0,"N":-0.13}
 ],
 "al": [
  {"s":"Al-3p","d":"u","E":-5,"N":0.07},{"s":"Al-3p","d":"u","E":-4.2,"N":0.12},{"s":"Al-3p","d":"u","E":-3.9,"N":0.18},{"s":"Al-3p","d":"u","E":-3.6,"N":0.14},{"s":"Al-3p","d":"u","E":-3.0,"N":0.1},{"s":"Al-3p","d":"u","E":-2.0,"N":0.09},{"s":"Al-3p","d":"u","E":-1.4,"N":0.08},{"s":"Al-3p","d":"u","E":-0.5,"N":0.08},{"s":"Al-3p","d":"u","E":0,"N":0.07},{"s":"Al-3p","d":"u","E":2.0,"N":0.06},
  {"s":"Al-3p","d":"d","E":-5,"N":-0.07},{"s":"Al-3p","d":"d","E":-4.0,"N":-0.15},{"s":"Al-3p","d":"d","E":-3.7,"N":-0.25},{"s":"Al-3p","d":"d","E":-3.5,"N":-0.22},{"s":"Al-3p","d":"d","E":-3.2,"N":-0.13},{"s":"Al-3p","d":"d","E":-2.5,"N":-0.1},{"s":"Al-3p","d":"d","E":-1.5,"N":-0.08},{"s":"Al-3p","d":"d","E":-0.5,"N":-0.09},{"s":"Al-3p","d":"d","E":0,"N":-0.07},{"s":"Al-3p","d":"d","E":2.0,"N":-0.06}
 ],
 "spacer": [{"a": 1}]
},
"spacing": 53,
"resolve": {"scale": {"color": "independent", "strokeDash": "independent"}},
"hconcat": [
 {
  "title": {"text": "(а)", "anchor": "middle", "offset": 19, "fontSize": 20, "dx": 31},
  "spacing": 0,
  "vconcat": [
   {"width": 10, "height": 1, "view": {"stroke": null}, "data": {"name": "spacer"}, "mark": {"type": "point", "opacity": 0, "size": 0}, "encoding": {}},
   {
    "spacing": 27,
    "hconcat": [
     {
      "width": 252, "height": 453,
      "title": {"text": "Спин ↑", "offset": 3},
      "layer": [
       {"data": {"name": "sym"}, "mark": {"type": "rule", "color": "#333", "strokeWidth": 1.1},
        "encoding": {"x": {"field": "k", "type": "quantitative"}}},
       {"data": {"name": "zero"}, "mark": {"type": "rule", "color": "#222", "strokeWidth": 1.3},
        "encoding": {"y": {"field": "E", "type": "quantitative"}}},
       {"data": {"name": "bu"}, "mark": {"type": "line", "color": "#E3211C", "strokeWidth": 1.8, "interpolate": "monotone", "clip": true},
        "encoding": {
         "x": {"field": "k", "type": "quantitative", "scale": {"domain": [0, 4.746], "nice": false, "zero": false},
               "axis": {"values": [0, 0.866, 1.866, 2.366, 3.073, 3.685, 4.746], "labelExpr": "datum.value < 0.1 ? 'L' : datum.value < 1 ? 'G' : datum.value < 2 ? 'X' : datum.value < 2.5 ? 'W' : datum.value < 3.2 ? 'L' : datum.value < 4 ? 'K' : 'G'", "ticks": false, "labelPadding": 10, "labelFontSize": 22, "labelFlush": false, "labelOverlap": false, "labelBound": false, "title": null}},
         "y": {"field": "E", "type": "quantitative", "scale": {"domain": [-5, 2], "nice": false, "zero": false},
               "axis": {"values": [-5, -4, -3, -2, -1, 0, 1, 2], "format": "d", "tickSize": -8, "labelPadding": 14, "title": "Энергия, эВ", "titlePadding": 22}},
         "detail": {"field": "b"}}}
      ]
     },
     {
      "width": 251, "height": 453,
      "title": {"text": "Спин ↓", "offset": 3},
      "layer": [
       {"data": {"name": "sym"}, "mark": {"type": "rule", "color": "#333", "strokeWidth": 1.1},
        "encoding": {"x": {"field": "k", "type": "quantitative"}}},
       {"data": {"name": "zero"}, "mark": {"type": "rule", "color": "#222", "strokeWidth": 1.3},
        "encoding": {"y": {"field": "E", "type": "quantitative"}}},
       {"data": {"name": "bd"}, "mark": {"type": "line", "color": "#E3211C", "strokeWidth": 1.8, "interpolate": "monotone", "clip": true},
        "encoding": {
         "x": {"field": "k", "type": "quantitative", "scale": {"domain": [0, 4.746], "nice": false, "zero": false},
               "axis": {"values": [0, 0.866, 1.866, 2.366, 3.073, 3.685, 4.746], "labelExpr": "datum.value < 0.1 ? 'L' : datum.value < 1 ? 'G' : datum.value < 2 ? 'X' : datum.value < 2.5 ? 'W' : datum.value < 3.2 ? 'L' : datum.value < 4 ? 'K' : 'G'", "ticks": false, "labelPadding": 10, "labelFontSize": 22, "labelFlush": false, "labelOverlap": false, "labelBound": false, "title": null}},
         "y": {"field": "E", "type": "quantitative", "scale": {"domain": [-5, 2], "nice": false, "zero": false},
               "axis": {"values": [-5, -4, -3, -2, -1, 0, 1, 2], "tickSize": -8, "labels": false, "title": null}},
         "detail": {"field": "b"}}}
      ]
     }
    ]
   }
  ]
 },
 {
  "title": {"text": "(б)", "anchor": "middle", "offset": 19, "fontSize": 20, "dx": 19},
  "spacing": 0,
  "bounds": "flush",
  "resolve": {"scale": {"color": "independent", "strokeDash": "independent"}},
  "vconcat": [
   {
    "width": 534, "height": 124,
    "layer": [
     {"data": {"name": "dU"}, "mark": {"type": "line", "color": "#111", "strokeWidth": 1.4, "clip": true},
      "encoding": {
       "x": {"field": "E", "type": "quantitative", "scale": {"domain": [-5, 2], "nice": false}, "axis": null},
       "y": {"field": "N", "type": "quantitative", "scale": {"domain": [0, 9.5], "nice": false}, "axis": {"values": [0, 4, 8], "tickSize": -8, "labelPadding": 14, "title": null}}}},
     {"data": {"name": "zero"}, "mark": {"type": "rule", "color": "#222", "strokeWidth": 1.3},
      "encoding": {"x": {"field": "E", "type": "quantitative", "axis": null}}},
     {"data": {"values": [{"E": 1.35, "N": 6.0, "t": "↑"}]}, "mark": {"type": "text", "fontSize": 30, "color": "#333", "font": "DejaVu Serif"},
      "encoding": {"x": {"field": "E", "type": "quantitative", "axis": null}, "y": {"field": "N", "type": "quantitative"}, "text": {"field": "t"}}}
    ]
   },
   {
    "width": 534, "height": 123,
    "layer": [
     {"data": {"name": "dD"}, "mark": {"type": "line", "color": "#111", "strokeWidth": 1.4, "clip": true},
      "encoding": {
       "x": {"field": "E", "type": "quantitative", "scale": {"domain": [-5, 2], "nice": false}, "axis": {"orient": "bottom", "values": [-4, -3, -2, -1, 0, 1], "tickSize": -8, "labels": false, "title": null}},
       "y": {"field": "N", "type": "quantitative", "scale": {"domain": [0, 9.5], "nice": false, "reverse": true}, "axis": {"values": [4, 8], "tickSize": -8, "labelPadding": 14, "title": "N(E), эВ⁻¹", "titlePadding": 8}}}},
     {"data": {"name": "zero"}, "mark": {"type": "rule", "color": "#222", "strokeWidth": 1.3},
      "encoding": {"x": {"field": "E", "type": "quantitative"}}},
     {"data": {"values": [{"E": 1.35, "N": 4.2, "t": "↓"}]}, "mark": {"type": "text", "fontSize": 30, "color": "#333", "font": "DejaVu Serif"},
      "encoding": {"x": {"field": "E", "type": "quantitative"}, "y": {"field": "N", "type": "quantitative"}, "text": {"field": "t"}}}
    ]
   },
   {
    "width": 534, "height": 244,
    "layer": [
     {"data": {"name": "co"}, "mark": {"type": "area", "color": "#F7A823", "clip": true},
      "encoding": {
       "x": {"field": "E", "type": "quantitative", "scale": {"domain": [-5, 2], "nice": false},
             "axis": {"values": [-5, -4, -3, -2, -1, 0, 1, 2], "format": "d", "tickSize": -8, "labelPadding": 18, "title": "E, эВ", "titlePadding": 10}},
       "y": {"field": "N", "type": "quantitative", "stack": null, "scale": {"domain": [-7, 7], "nice": false},
             "axis": {"values": [-6, -4, -2, 0, 2, 4, 6], "labelExpr": "abs(datum.value)", "tickSize": -8, "labelPadding": 14, "title": null}},
       "detail": {"field": "d"}}},
     {"data": {"name": "co"}, "mark": {"type": "line", "strokeWidth": 0.8, "clip": true},
      "encoding": {
       "x": {"field": "E", "type": "quantitative"},
       "y": {"field": "N", "type": "quantitative"},
       "detail": {"field": "d"},
       "color": {"field": "s", "type": "nominal", "scale": {"domain": ["Co-3d", "Ni-3d", "Al-3p"], "range": ["#F7A823", "#2A2E9C", "#000000"]},
                 "legend": {"title": null, "orient": "none", "legendX": 22, "legendY": 6, "symbolType": "stroke", "symbolSize": 750, "symbolStrokeWidth": 2.5, "rowPadding": 0, "labelFontSize": 20, "labelOffset": 16, "padding": 0}},
       "strokeDash": {"field": "s", "type": "nominal", "scale": {"domain": ["Co-3d", "Ni-3d", "Al-3p"], "range": [[1, 0], [7, 4], [1, 0]]},
                 "legend": {"title": null, "orient": "none", "legendX": 22, "legendY": 6, "symbolType": "stroke", "symbolSize": 750, "symbolStrokeWidth": 2.5, "rowPadding": 0, "labelFontSize": 20, "labelOffset": 16, "padding": 0}}}},
     {"data": {"name": "ni"}, "mark": {"type": "line", "strokeWidth": 1.8, "clip": true},
      "encoding": {
       "x": {"field": "E", "type": "quantitative"},
       "y": {"field": "N", "type": "quantitative"},
       "detail": {"field": "d"},
       "color": {"field": "s", "type": "nominal"},
       "strokeDash": {"field": "s", "type": "nominal"}}},
     {"data": {"name": "al"}, "mark": {"type": "area", "color": "#000"},
      "encoding": {
       "x": {"field": "E", "type": "quantitative"},
       "y": {"field": "N", "type": "quantitative", "stack": null},
       "detail": {"field": "d"}}},
     {"data": {"name": "al"}, "mark": {"type": "line", "strokeWidth": 1.5},
      "encoding": {
       "x": {"field": "E", "type": "quantitative"},
       "y": {"field": "N", "type": "quantitative"},
       "detail": {"field": "d"},
       "color": {"field": "s", "type": "nominal"},
       "strokeDash": {"field": "s", "type": "nominal"}}},
     {"data": {"name": "zero"}, "mark": {"type": "rule", "color": "#222", "strokeWidth": 1.3},
      "encoding": {"x": {"field": "E", "type": "quantitative"}}},
     {"data": {"values": [{"E": 1.35, "N": 4.3, "t": "↑"}, {"E": 1.35, "N": -3.2, "t": "↓"}]}, "mark": {"type": "text", "fontSize": 30, "color": "#333", "font": "DejaVu Serif"},
      "encoding": {"x": {"field": "E", "type": "quantitative"}, "y": {"field": "N", "type": "quantitative"}, "text": {"field": "t"}}}
    ]
   }
  ]
 }
]
}
